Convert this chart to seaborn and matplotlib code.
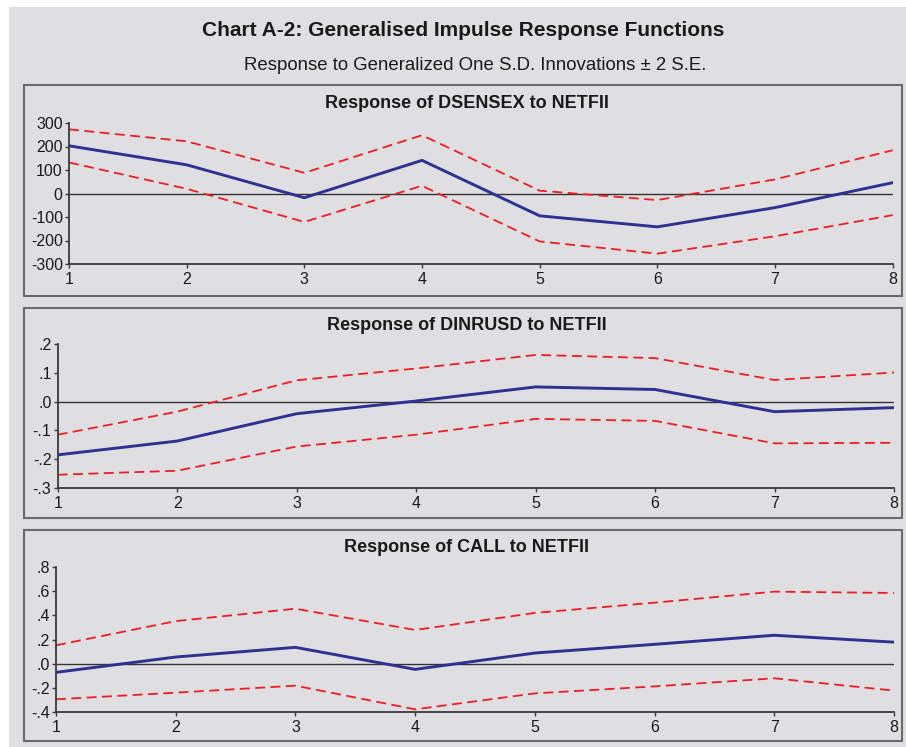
import numpy as np
import pandas as pd
import matplotlib
matplotlib.use('Agg')
import matplotlib.pyplot as plt
from matplotlib.patches import Rectangle
from matplotlib.ticker import FixedLocator, FixedFormatter
import seaborn as sns

# Data (periods 1..8)
steps = [1, 2, 3, 4, 5, 6, 7, 8]

dsensex_resp = [203, 122, -18, 141, -95, -142, -60, 46]
dsensex_upper = [273, 222, 88, 248, 12, -28, 60, 184]
dsensex_lower = [132, 20, -121, 33, -204, -256, -182, -92]

dinrusd_resp = [-0.185, -0.137, -0.042, 0.002, 0.051, 0.042, -0.035, -0.021]
dinrusd_upper = [-0.115, -0.035, 0.074, 0.115, 0.162, 0.151, 0.075, 0.101]
dinrusd_lower = [-0.254, -0.240, -0.156, -0.115, -0.060, -0.067, -0.145, -0.143]

call_resp = [-0.072, 0.055, 0.135, -0.047, 0.088, 0.160, 0.235, 0.178]
call_upper = [0.152, 0.352, 0.455, 0.279, 0.420, 0.505, 0.596, 0.585]
call_lower = [-0.295, -0.240, -0.182, -0.378, -0.246, -0.188, -0.121, -0.223]

dsensex_ticks = [-300, -200, -100, 0, 100, 200, 300]
dsensex_labels = ['-300', '-200', '-100', '0', '100', '200', '300']
dinrusd_ticks = [-0.3, -0.2, -0.1, 0.0, 0.1, 0.2]
dinrusd_labels = ['-.3', '-.2', '-.1', '.0', '.1', '.2']
call_ticks = [-0.4, -0.2, 0.0, 0.2, 0.4, 0.6, 0.8]
call_labels = ['-.4', '-.2', '.0', '.2', '.4', '.6', '.8']

panel_titles = ['Response of DSENSEX to NETFII',
                'Response of DINRUSD to NETFII',
                'Response of CALL to NETFII']

main_title = 'Chart A-2: Generalised Impulse Response Functions'
sub_title = 'Response to Generalized One S.D. Innovations \u00b1 2 S.E.'

BG = '#dfdfe2'
BLUE = '#2e3192'
RED = '#ed1c24'

sns.set_style('ticks')
plt.rcParams['font.family'] = ['Liberation Sans', 'DejaVu Sans']

W, H = 906, 747
fig = plt.figure(figsize=(W / 100, H / 100), dpi=100, facecolor='white')


def px_rect(x0, y0, x1, y1, **kw):
    # rectangle given in pixel coords from top-left
    r = Rectangle((x0 / W, 1 - y1 / H), (x1 - x0) / W, (y1 - y0) / H,
                  transform=fig.transFigure, zorder=-2, **kw)
    fig.patches.append(r)


px_rect(9, 7, W, H, facecolor=BG, edgecolor='none')
for y0, y1 in [(85, 296), (308, 518), (530, 741)]:
    px_rect(24, y0, 902, y1, facecolor='none', edgecolor='#6a6a6a', linewidth=1.5)

fig.text(463.5 / W, 1 - 31 / H, main_title, ha='center', va='center',
         fontsize=15, fontweight='bold', color='#1a1a1a')
fig.text(475.5 / W, 1 - 65 / H, sub_title, ha='center', va='center',
         fontsize=13.4, color='#1a1a1a')

# axes boxes in pixels: left, top, right, bottom
ax_boxes = [(69, 123, 892.7, 264), (57.7, 344, 894, 488), (56, 567, 894, 712)]
title_y = [103, 326, 548]

panels = [
    (dsensex_resp, dsensex_upper, dsensex_lower, dsensex_ticks, dsensex_labels, (-300, 300)),
    (dinrusd_resp, dinrusd_upper, dinrusd_lower, dinrusd_ticks, dinrusd_labels, (-0.3, 0.2)),
    (call_resp, call_upper, call_lower, call_ticks, call_labels, (-0.4, 0.8)),
]

for i, (resp, upper, lower, ticks, labels, ylim) in enumerate(panels):
    l, t, r, b = ax_boxes[i]
    ax = fig.add_axes([l / W, 1 - b / H, (r - l) / W, (b - t) / H])
    ax.set_facecolor('none')

    df = pd.DataFrame({'step': steps, 'resp': resp, 'upper': upper, 'lower': lower})
    ax.axhline(0, color='#333333', linewidth=1.0, zorder=1)
    sns.lineplot(data=df, x='step', y='upper', ax=ax, color=RED,
                 linewidth=1.3, linestyle=(0, (5.5, 3)), zorder=2)
    sns.lineplot(data=df, x='step', y='lower', ax=ax, color=RED,
                 linewidth=1.3, linestyle=(0, (5.5, 3)), zorder=2)
    sns.lineplot(data=df, x='step', y='resp', ax=ax, color=BLUE,
                 linewidth=2.1, zorder=3)

    ax.set_xlim(1, 8)
    ax.set_ylim(*ylim)
    ax.xaxis.set_major_locator(FixedLocator(steps))
    ax.yaxis.set_major_locator(FixedLocator(ticks))
    ax.yaxis.set_major_formatter(FixedFormatter(labels))
    ax.set_xlabel('')
    ax.set_ylabel('')
    for side in ['top', 'right']:
        ax.spines[side].set_visible(False)
    for side in ['left', 'bottom']:
        ax.spines[side].set_color('#3a3a3a')
        ax.spines[side].set_linewidth(1.3)
    ax.tick_params(axis='y', direction='out', length=3, width=1.0, pad=1.5,
                   labelsize=11.5, colors='#3a3a3a', labelcolor='#1a1a1a')
    ax.tick_params(axis='x', direction='out', length=3, width=1.0, pad=2.5,
                   labelsize=11.5, colors='#3a3a3a', labelcolor='#1a1a1a')

    fig.text(467 / W, 1 - title_y[i] / H, panel_titles[i], ha='center', va='center',
             fontsize=13, fontweight='bold', color='#1a1a1a')

fig.savefig('out.png', dpi=100, facecolor='white')
